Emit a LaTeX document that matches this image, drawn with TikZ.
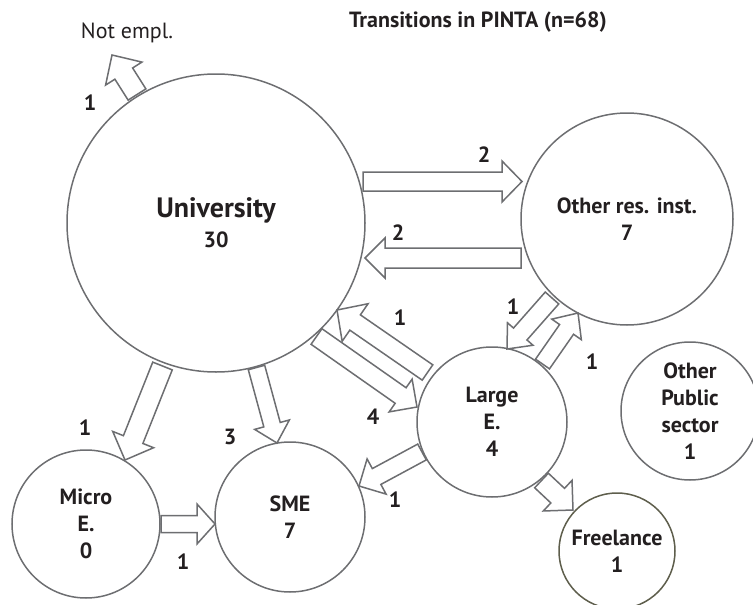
\documentclass[tikz,border=0pt]{standalone}
\usepackage{fontspec}
\setmainfont{PT Sans}
\usetikzlibrary{calc}
\definecolor{cgrey}{HTML}{6D6E71}
\definecolor{colive}{HTML}{5E5E4C}
\definecolor{ctext}{HTML}{231F20}
% #1 start, #2 tip, #3 shaft half width, #4 head half width, #5 head length
\newcommand{\blockarrowdraw}[5]{%
  \path ($(#2)!#5!(#1)$) coordinate (bh);
  \draw[arrowline] ($(#1)!#3!90:(#2)$) -- ($(bh)!#3!90:(#2)$) -- ($(bh)!#4!90:(#2)$) -- (#2)
    -- ($(bh)!#4!-90:(#2)$) -- ($(bh)!#3!-90:(#2)$) -- ($(#1)!#3!-90:(#2)$) -- cycle;}
\tikzset{
  state/.style={circle, draw=cgrey, line width=1.5pt, inner sep=0pt, align=center, text=ctext,
    font=\fontsize{22}{27}\selectfont\bfseries},
  arrowline/.style={draw=cgrey, line width=1.5pt, fill=white, line join=miter},
  num/.style={text=ctext, font=\fontsize{22}{26}\selectfont\bfseries, inner sep=0pt},
}
\begin{document}
\begin{tikzpicture}[x=1pt, y=-1pt]
\useasboundingbox (0,0) rectangle (753,605);
% title and free label
\node[text=ctext, font=\fontsize{22}{26}\selectfont\bfseries] (title) at (478,22) {Transitions in PINTA (n=68)};
\node[text=ctext, font=\fontsize{22}{26}\selectfont] (notempl) at (127,33) {Not empl.};
% states
\node[state, minimum size=298pt, font=\fontsize{28}{32}\selectfont\bfseries] (uni) at (216,223) {University\\[-2pt]{\fontsize{22}{27}\selectfont 30}};
\node[state, minimum size=212pt] (ores) at (627,219) {Other res. inst.\\7};
\node[state, minimum size=150pt] (large) at (492,422) {Large\\E.\\4};
\node[state, minimum size=138pt] (opub) at (690,411) {Other\\Public\\sector\\1};
\node[state, minimum size=116pt, draw=colive] (free) at (617,551) {Freelance\\1};
\node[state, minimum size=148pt] (micro) at (86,524) {Micro\\E.\\0};
\node[state, minimum size=150pt] (sme) at (290,517) {SME\\7};
% arrow end points
\coordinate (a-s) at (137,94.5);  \coordinate (a-t) at (112,55);
\coordinate (b-s) at (363,181.5); \coordinate (b-t) at (522,181.5);
\coordinate (c-s) at (521,258);   \coordinate (c-t) at (365,258);
\coordinate (d-s) at (427.5,372.5); \coordinate (d-t) at (337,310);
\coordinate (e-s) at (316.5,336.5); \coordinate (e-t) at (417,407);
\coordinate (f-s) at (542.5,364); \coordinate (f-t) at (578,313);
\coordinate (g-s) at (552,298);   \coordinate (g-t) at (507,349);
\coordinate (h-s) at (422,452);   \coordinate (h-t) at (359,486);
\coordinate (i-s) at (541.5,480.5); \coordinate (i-t) at (573,510);
\coordinate (j-s) at (162.5,366); \coordinate (j-t) at (125,460);
\coordinate (k-s) at (256.5,367.5); \coordinate (k-t) at (277,443);
\coordinate (l-s) at (161,524);   \coordinate (l-t) at (215,524);
% arrows
\blockarrowdraw{a-s}{a-t}{10.5pt}{21.5pt}{22pt}
\blockarrowdraw{b-s}{b-t}{9.5pt}{20.5pt}{20pt}
\blockarrowdraw{c-s}{c-t}{10pt}{20pt}{20pt}
\blockarrowdraw{d-s}{d-t}{9.3pt}{22.8pt}{22pt}
\blockarrowdraw{e-s}{e-t}{9.5pt}{20pt}{20pt}
\blockarrowdraw{f-s}{f-t}{8.5pt}{18pt}{20pt}
\blockarrowdraw{g-s}{g-t}{9pt}{17pt}{20pt}
\blockarrowdraw{h-s}{h-t}{9pt}{20pt}{20pt}
\blockarrowdraw{i-s}{i-t}{10pt}{21pt}{21pt}
\blockarrowdraw{j-s}{j-t}{10.5pt}{22pt}{22pt}
\blockarrowdraw{k-s}{k-t}{8.5pt}{18pt}{19pt}
\blockarrowdraw{l-s}{l-t}{8.5pt}{20pt}{18pt}
% count labels
\node[num] (n1) at (90,103) {1};
\node[num] (n2) at (484,155) {2};
\node[num] (n3) at (398,233) {2};
\node[num] (n4) at (400,318) {1};
\node[num] (n5) at (373,417) {4};
\node[num] (n6) at (513,307) {1};
\node[num] (n7) at (592,362) {1};
\node[num] (n8) at (395,500) {1};
\node[num] (n9) at (85,428) {1};
\node[num] (n10) at (230,437) {3};
\node[num] (n11) at (183,562) {1};
\end{tikzpicture}
\end{document}
